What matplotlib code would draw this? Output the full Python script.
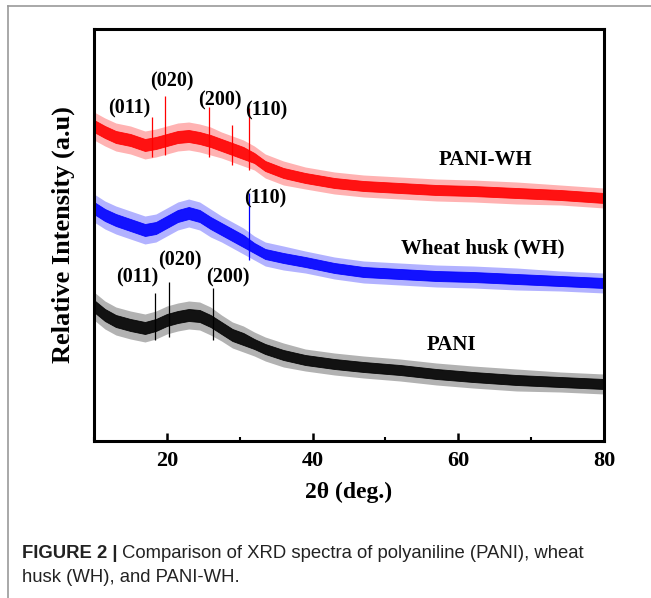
import matplotlib
matplotlib.use("agg")
import matplotlib.pyplot as plt
from matplotlib.lines import Line2D
from matplotlib.ticker import MultipleLocator

theta = [10, 11.5, 13, 15, 17, 18.5, 20, 21.5, 23, 24.5, 26, 27.5, 29, 30.5,
         32, 33.5, 36, 39, 43, 47, 52, 57, 62, 68, 74, 80]

# band centres (a.u.)
pani_wh = [315, 309, 304, 301, 296, 298, 301, 304, 305, 303, 300, 296, 292, 288,
           283, 275, 268, 263, 258, 255, 253, 251, 250, 248, 246, 243]
wh = [233, 226, 221, 216, 211, 213, 219, 225, 228, 225, 218, 212, 206, 200,
      193, 187, 183, 179, 173, 169, 167, 165, 164, 162, 160, 158]
pani = [135, 126, 120, 116, 113, 116, 121, 124, 126, 125, 120, 113, 106, 102,
        97, 92, 86, 81, 77, 74, 71, 67, 64, 61, 59, 57]

# noise half widths (dense core and spiky fringe)
core_hw = [6, 6, 6, 6, 6, 6, 6, 6, 6, 6, 6, 6, 6, 6,
           5, 5, 5, 5, 5, 5, 5, 5, 5, 5, 5, 5]
fringe_hw = [14, 14, 14, 14, 14, 14, 14, 14, 14, 14, 14, 13, 13, 13,
             12, 12, 12, 11, 11, 11, 11, 11, 11, 11, 10, 10]

# sharp reflections: (2theta, top)
pani_wh_peaks = [(17.9, 324), (19.8, 345), (25.8, 334), (28.9, 316), (31.3, 333)]
wh_peaks = [(31.3, 248)]
pani_peaks = [(18.4, 148), (20.3, 159), (26.4, 153)]

# (label, 2theta, y)
pani_wh_hkl = [("(011)", 14.9, 333), ("(020)", 20.7, 360), ("(200)", 27.3, 341), ("(110)", 33.7, 331)]
wh_hkl = [("(110)", 33.5, 243)]
pani_hkl = [("(011)", 15.9, 164), ("(020)", 21.8, 181), ("(200)", 28.4, 164)]

names = ["PANI-WH", "Wheat husk (WH)", "PANI"]
name_pos = [(63.7, 281), (63.3, 193), (59.0, 96)]

serif = ["Liberation Serif", "DejaVu Serif"]

fig = plt.figure(figsize=(6.51, 5.98), dpi=100)
ax = fig.add_axes([94 / 651, 157 / 598, 510 / 651, 412 / 598])

series = [(pani_wh, "#ff0000", pani_wh_peaks, pani_wh_hkl),
          (wh, "#0000ff", wh_peaks, wh_hkl),
          (pani, "#000000", pani_peaks, pani_hkl)]

for y, c, peaks, hkl in series:
    lo = [a - b for a, b in zip(y, fringe_hw)]
    hi = [a + b for a, b in zip(y, fringe_hw)]
    ax.fill_between(theta, lo, hi, color=c, alpha=0.3, lw=0)
    lo = [a - b for a, b in zip(y, core_hw)]
    hi = [a + b for a, b in zip(y, core_hw)]
    ax.fill_between(theta, lo, hi, color=c, alpha=0.9, lw=0.6)
    for px, top in peaks:
        base = min(y[i] for i in range(len(theta)) if abs(theta[i] - px) < 2)
        ax.vlines(px, base - 12, top, color=c, lw=0.9)
    for txt, tx, ty in hkl:
        ax.text(tx, ty, txt, ha="center", va="center", fontsize=14.5,
                fontweight="bold", family=serif)

for n, (tx, ty) in zip(names, name_pos):
    ax.text(tx, ty, n, ha="center", va="center", fontsize=15,
            fontweight="bold", family=serif)

ax.set_xlim(10, 80)
ax.set_ylim(0, 412)
ax.xaxis.set_major_locator(MultipleLocator(20))
ax.xaxis.set_minor_locator(MultipleLocator(10))
ax.tick_params(axis="x", which="major", direction="in", length=6, width=1.8,
               labelsize=16, pad=7)
ax.tick_params(axis="x", which="minor", direction="in", length=3, width=1.5)
ax.set_yticks([])
for lab in ax.get_xticklabels():
    lab.set_family(serif)
    lab.set_fontweight("bold")
for s in ax.spines.values():
    s.set_linewidth(2.2)

ax.set_xlabel("2θ (deg.)", fontsize=17, fontweight="bold", family=serif, labelpad=8)
ax.set_ylabel("Relative Intensity (a.u)", fontsize=19, fontweight="bold",
              family=serif, labelpad=14)

# outer frame of the figure box
fig.add_artist(Line2D([8 / 651, 8 / 651], [0, 1 - 6 / 598], color="#9a9a9a", lw=1.2))
fig.add_artist(Line2D([8 / 651, 1], [1 - 6 / 598, 1 - 6 / 598], color="#9a9a9a", lw=1.2))

# caption
cap_font = ["Liberation Sans", "DejaVu Sans"]
t1 = fig.text(22 / 651, 1 - 553 / 598, "FIGURE 2 |", fontsize=13.3, fontweight="bold",
              family=cap_font, va="center", color="#222222")
fig.add_artist(plt.Annotation("Comparison of XRD spectra of polyaniline (PANI), wheat",
                              xy=(1, 0.5), xycoords=t1, xytext=(3, 0),
                              textcoords="offset points", va="center",
                              fontsize=13.3, family=cap_font, color="#222222"))
fig.text(22 / 651, 1 - 577 / 598, "husk (WH), and PANI-WH.", fontsize=13.3,
         family=cap_font, va="center", color="#222222")

fig.savefig("out.png", dpi=100)
